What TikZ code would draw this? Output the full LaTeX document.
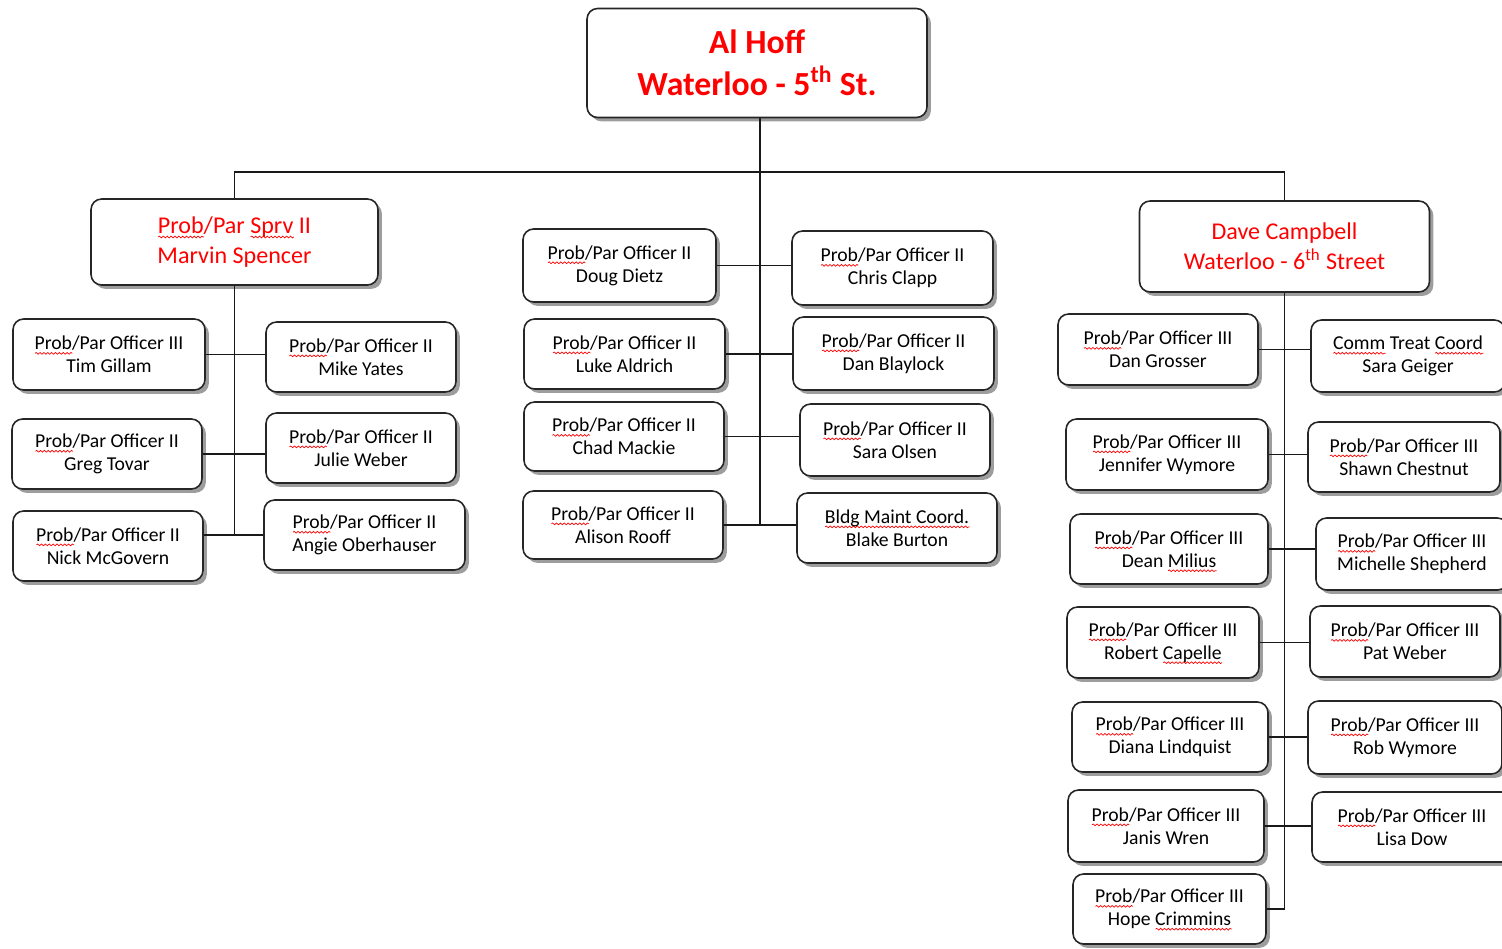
\documentclass[tikz,border=0pt]{standalone}
\usepackage{fontspec}
\setmainfont{Carlito}
\usetikzlibrary{shadows,decorations.pathmorphing}
\newsavebox\sqbox
\newcommand\sqw[1]{\sbox\sqbox{#1}\rlap{\smash{\tikz[baseline=0pt,sharp corners,x=1pt,y=1pt]\draw[red,sharp corners,line width=0.4pt,decorate,decoration={snake,amplitude=0.5pt,segment length=2.2pt}] (0pt,-2.0pt) -- (\wd\sqbox,-2.0pt);}}\usebox\sqbox}
\definecolor{hdred}{RGB}{255,0,0}
\tikzset{
  box/.style={draw=black!85, line width=0.9pt, rounded corners=6pt, fill=white,
    align=center, inner sep=0pt,
    drop shadow={shadow xshift=2.2pt, shadow yshift=-2.2pt, fill=black!70, opacity=0.55},
    font=\fontsize{11.2}{13}\selectfont, text=black},
  headbox/.style={box, font=\fontsize{13.7}{17}\selectfont, text=hdred},
  topbox/.style={box, font=\fontsize{19.2}{24}\selectfont\bfseries, text=hdred},
  conn/.style={draw=black!90, line width=0.7pt}
}
\begin{document}
\begin{tikzpicture}[x=0.02cm, y=-0.02cm]
\useasboundingbox (0,0) rectangle (1502,948);

% top
\node[topbox, minimum width=6.8cm, minimum height=2.18cm] (top) at (757,63)
  {Al Hoff\\Waterloo - 5\textsuperscript{th} St.};
\node[headbox, minimum width=5.74cm, minimum height=1.72cm] (spry) at (234.5,242)
  {\sqw{Prob}/Par \sqw{Sprv} II\\Marvin Spencer};
\node[headbox, minimum width=5.8cm, minimum height=1.82cm] (dave) at (1284.5,246.5)
  {Dave Campbell\\Waterloo - 6\textsuperscript{th} Street};

% left group
\node[box, minimum width=3.84cm, minimum height=1.42cm] (tim) at (109,354.5) {\sqw{Prob}/Par Officer III\\Tim Gillam};
\node[box, minimum width=3.8cm, minimum height=1.4cm] (greg) at (107,454) {\sqw{Prob}/Par Officer II\\Greg Tovar};
\node[box, minimum width=3.8cm, minimum height=1.4cm] (nick) at (108,546) {\sqw{Prob}/Par Officer II\\Nick McGovern};
\node[box, minimum width=3.8cm, minimum height=1.4cm] (mike) at (361,357) {\sqw{Prob}/Par Officer II\\Mike Yates};
\node[box, minimum width=3.8cm, minimum height=1.4cm] (julie) at (361,448) {\sqw{Prob}/Par Officer II\\Julie Weber};
\node[box, minimum width=4.02cm, minimum height=1.4cm] (angie) at (364.5,535) {\sqw{Prob}/Par Officer II\\Angie Oberhauser};

% middle group
\node[box, minimum width=3.86cm, minimum height=1.46cm] (doug) at (619.5,265.5) {\sqw{Prob}/Par Officer II\\Doug Dietz};
\node[box, minimum width=4.02cm, minimum height=1.4cm] (luke) at (624.5,354) {\sqw{Prob}/Par Officer II\\Luke Aldrich};
\node[box, minimum width=4.0cm, minimum height=1.38cm] (chad) at (624,436.5) {\sqw{Prob}/Par Officer II\\Chad Mackie};
\node[box, minimum width=4.0cm, minimum height=1.36cm] (alison) at (623,525) {\sqw{Prob}/Par Officer II\\Alison Rooff};
\node[box, minimum width=4.02cm, minimum height=1.48cm] (chris) at (892.5,268) {\sqw{Prob}/Par Officer II\\Chris Clapp};
\node[box, minimum width=4.02cm, minimum height=1.46cm] (danb) at (893.5,353.5) {\sqw{Prob}/Par Officer II\\Dan Blaylock};
\node[box, minimum width=3.8cm, minimum height=1.44cm] (sarao) at (895,440) {\sqw{Prob}/Par Officer II\\Sara Olsen};
\node[box, minimum width=4.0cm, minimum height=1.4cm] (blake) at (897,528) {\sqw{Bldg Maint Coord.}\\Blake Burton};

% right group
\node[box, minimum width=4.0cm, minimum height=1.42cm] (dang) at (1158,349.5) {\sqw{Prob}/Par Officer III\\Dan Grosser};
\node[box, minimum width=4.04cm, minimum height=1.42cm] (jen) at (1167,454.5) {\sqw{Prob}/Par Officer III\\Jennifer Wymore};
\node[box, minimum width=3.96cm, minimum height=1.4cm] (dean) at (1169,549) {\sqw{Prob}/Par Officer III\\Dean \sqw{Milius}};
\node[box, minimum width=3.84cm, minimum height=1.42cm] (robert) at (1163,642.5) {\sqw{Prob}/Par Officer III\\Robert \sqw{Capelle}};
\node[box, minimum width=3.92cm, minimum height=1.4cm] (diana) at (1170,737) {\sqw{Prob}/Par Officer III\\Diana Lindquist};
\node[box, minimum width=3.92cm, minimum height=1.44cm] (janis) at (1166,826) {\sqw{Prob}/Par Officer III\\Janis Wren};
\node[box, minimum width=3.86cm, minimum height=1.4cm] (hope) at (1169.5,909) {\sqw{Prob}/Par Officer III\\Hope \sqw{Crimmins}};
\node[box, minimum width=3.88cm, minimum height=1.44cm] (geiger) at (1408,356) {\sqw{Comm} Treat \sqw{Coord}\\Sara Geiger};
\node[box, minimum width=3.84cm, minimum height=1.4cm] (shawn) at (1404,457) {\sqw{Prob}/Par Officer III\\Shawn Chestnut};
\node[box, minimum width=3.84cm, minimum height=1.44cm] (michelle) at (1412,554) {\sqw{Prob}/Par Officer III\\Michelle Shepherd};
\node[box, minimum width=3.8cm, minimum height=1.42cm] (pat) at (1405,641.5) {\sqw{Prob}/Par Officer III\\Pat Weber};
\node[box, minimum width=3.88cm, minimum height=1.46cm] (rob) at (1405,737.5) {\sqw{Prob}/Par Officer III\\Rob Wymore};
\node[box, minimum width=4.0cm, minimum height=1.4cm] (lisa) at (1412,827) {\sqw{Prob}/Par Officer III\\Lisa Dow};

% connectors
\coordinate (j) at (760,172);
\draw[conn] (top.south -| j) -- (j);
\draw[conn] (spry.north) |- (j);
\draw[conn] (j) -| (dave.north);
\draw[conn] (j) -- (j |- alison.east);

\draw[conn] (spry.south) -- (spry.south |- angie.west);
\draw[conn] (tim.east) -- (tim.east -| mike.west);
\draw[conn] (greg.east) -- (greg.east -| julie.west);
\draw[conn] (angie.west) -- (angie.west -| nick.east);

\draw[conn] (doug.east) -- (doug.east -| chris.west);
\draw[conn] (luke.east) -- (luke.east -| danb.west);
\draw[conn] (chad.east) -- (chad.east -| sarao.west);
\draw[conn] (alison.east) -- (alison.east -| blake.west);

\draw[conn] (dave.south) -- (dave.south |- hope.east);
\draw[conn] (dang.east) -- (dang.east -| geiger.west);
\draw[conn] (jen.east) -- (jen.east -| shawn.west);
\draw[conn] (dean.east) -- (dean.east -| michelle.west);
\draw[conn] (robert.east) -- (robert.east -| pat.west);
\draw[conn] (diana.east) -- (diana.east -| rob.west);
\draw[conn] (janis.east) -- (janis.east -| lisa.west);
\draw[conn] (hope.east) -- (hope.east -| dave.south);
\end{tikzpicture}
\end{document}
